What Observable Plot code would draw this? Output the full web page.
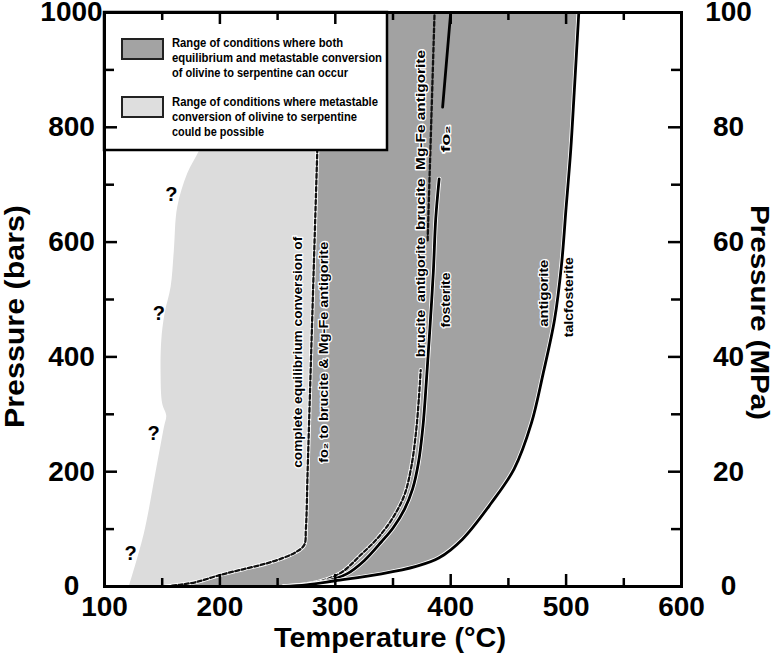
<!DOCTYPE html>
<html><head><meta charset="utf-8">
<script src="https://cdn.jsdelivr.net/npm/d3@7"></script>
<script src="https://cdn.jsdelivr.net/npm/@observablehq/plot@0.6"></script>
<style>body{margin:0;background:#fff}</style>
</head><body><div id="chart"></div>
<script>
// ---- ticks ----
const xTicks = [100, 200, 300, 400, 500, 600];
const xMinor = [150, 250, 350, 450, 550];
const barTicks = [0, 200, 400, 600, 800, 1000];
const barMinor = [100, 300, 500, 700, 900];
const mpaTicks = [0, 20, 40, 60, 80, 100];

// ---- light region left boundary (T °C, P bars) ----
const lightT = [121, 134, 144, 151.5, 153.5, 150, 148.6, 149.2, 152, 157.3, 160.1, 163, 171.7, 181.8, 190, 200];
const lightP = [0, 92, 197, 278, 298, 319, 371, 429, 475, 522, 586, 661, 720, 759, 800, 1000];
// complete equilibrium conversion (dashed)
const dashLT = [153, 165, 180, 200, 220, 240, 255, 265, 273, 274.5, 276, 277.5, 279, 280.5, 282, 283.5, 285, 288];
const dashLP = [0, 3, 8, 20, 30, 40, 50, 59, 72, 100, 200, 300, 400, 500, 600, 700, 800, 1000];
// antigorite = talc + forsterite (solid, right)
const rightT = [255, 275, 300, 340, 370, 390, 410, 435, 455, 470, 480, 490, 496, 500, 504, 507, 511];
const rightP = [0, 3, 10, 22, 35, 50, 82, 145, 205, 285, 370, 465, 560, 660, 760, 860, 1000];
// brucite + antigorite = forsterite (solid, middle)
const midST = [265, 290, 310, 325, 340, 350, 360, 367, 372, 376, 379, 382, 385, 387, 390];
const midSP = [0, 8, 22, 45, 78, 102, 135, 170, 215, 280, 360, 450, 550, 640, 710];
const midSUpT = [393, 400];
const midSUpP = [835, 1000];
// brucite + Mg-Fe antigorite (dashed, middle)
const midDT = [255, 285, 305, 322, 337, 350, 360, 366, 370, 372.5, 374];
const midDP = [0, 8, 24, 55, 85, 120, 160, 210, 270, 330, 377];
const midDUpT = [380, 383, 386];
const midDUpP = [603, 800, 1000];

// ---- annotations ----
const labelText = ["complete equilibrium conversion of", "fo\u2082 to brucite & Mg-Fe antigorite",
  "brucite  antigorite", "fosterite", "brucite  Mg-Fe antigorite", "fo\u2082", "antigorite", "talcfosterite"];
const labelT = [267.5, 290, 374.2, 396, 374.2, 395.9, 481, 502.6];
const labelP = [408, 408, 504, 499, 778, 780, 511, 504];
const labelLen = [231, 221, 120, 55, 180, 27, 67, 80];
const qT = [158, 147, 142.5, 122.6];
const qP = [682, 476, 267, 58];

// legend
const legendFills = ["#a3a3a3", "#dedede"];
const legendLines = [
  ["Range of conditions where both", "equilibrium and metastable conversion", "of olivine to serpentine can occur"],
  ["Range of conditions where metastable", "conversion of olivine to serpentine", "could be possible"]
];
const legendLens = [[171, 210, 176], [206, 185, 92]];

const xTitle = "Temperature (\u00b0C)";
const yTitle = "Pressure (bars)";
const y2Title = "Pressure (MPa)";
const titleLen = {[xTitle]: 232, [yTitle]: 223, [y2Title]: 215};

// ---- build ----
const pts = (T, P) => T.map((t, i) => ({T: t, P: P[i]}));
const light = pts(lightT, lightP).concat(pts(dashLT, dashLP).reverse());
const dark = pts(dashLT, dashLP).concat(pts(rightT, rightP).reverse());
const labels = labelText.map((t, i) => ({text: t, T: labelT[i], P: labelP[i], len: labelLen[i]}));
const qs = pts(qT, qP);

const FONT = "'Liberation Sans', Arial, sans-serif";
const W = 774, H = 668, mL = 104, mR = 93, mT = 12, mB = 82;
const iw = W - mL - mR, ih = H - mT - mB;

const DARK = "#a2a2a2", LIGHT = "#dcdcdc";

function legendMark(index, scales, values, dimensions) {
  const g = d3.create("svg:g");
  const x0 = dimensions.marginLeft, y0 = dimensions.marginTop;
  g.append("rect").attr("x", x0).attr("y", y0).attr("width", 283).attr("height", 138)
    .attr("fill", "white").attr("stroke", "black").attr("stroke-width", 2.5);
  const swY = [27, 85];
  const baseY = [[35, 50, 65], [94, 109, 124]];
  legendFills.forEach((f, k) => {
    g.append("rect").attr("x", x0 + 18).attr("y", y0 + swY[k]).attr("width", 41).attr("height", 20)
      .attr("fill", f).attr("stroke", "#222").attr("stroke-width", 2);
    legendLines[k].forEach((line, j) => {
      g.append("text").attr("x", x0 + 68).attr("y", y0 + baseY[k][j])
        .attr("text-anchor", "start")
        .attr("font-family", FONT).attr("font-weight", "bold").attr("font-size", 12.5)
        .attr("textLength", legendLens[k][j]).attr("lengthAdjust", "spacingAndGlyphs")
        .attr("fill", "black").text(line);
    });
  });
  return g.node();
}

const lineCommon = {x: "T", y: "P", curve: "catmull-rom", clip: true};
const tickStyle = {stroke: "black", strokeWidth: 2.5};
const axisFont = {fontSize: 28, fontWeight: "bold", fontFamily: FONT, label: null};

const plot = Plot.plot({
  width: W, height: H,
  marginLeft: mL, marginRight: mR, marginTop: mT, marginBottom: mB,
  x: {domain: [100, 600]},
  y: {domain: [0, 1000]},
  style: {fontFamily: FONT, background: "white"},
  marks: [
    Plot.line(light, {...lineCommon, fill: LIGHT, stroke: "none"}),
    Plot.line(dark, {x: "T", y: "P", curve: "linear", clip: true, fill: DARK, stroke: "none"}),
    // lines
    Plot.line(pts(dashLT, dashLP), {...lineCommon, stroke: "white", strokeWidth: 4}),
    Plot.line(pts(dashLT, dashLP), {...lineCommon, stroke: "#111", strokeWidth: 2.3, strokeDasharray: "4,2.5"}),
    Plot.line(pts(midDT, midDP), {...lineCommon, stroke: "white", strokeWidth: 4}),
    Plot.line(pts(midDT, midDP), {...lineCommon, stroke: "#111", strokeWidth: 2.3, strokeDasharray: "4,2.5"}),
    Plot.line(pts(midDUpT, midDUpP), {...lineCommon, stroke: "#111", strokeWidth: 2.3, strokeDasharray: "4,2.5"}),
    Plot.line(pts(midST, midSP), {...lineCommon, stroke: "white", strokeWidth: 4.5}),
    Plot.line(pts(midST, midSP), {...lineCommon, stroke: "black", strokeWidth: 2.8}),
    Plot.line(pts(midSUpT, midSUpP), {...lineCommon, stroke: "black", strokeWidth: 2.8}),
    Plot.line(pts(rightT, rightP), {...lineCommon, stroke: "white", strokeWidth: 4.5}),
    Plot.line(pts(rightT, rightP), {...lineCommon, stroke: "black", strokeWidth: 2.8}),
    // labels
    Plot.text(labels, {x: "T", y: "P", text: "text", rotate: -90, fontSize: 13, fontWeight: "bold",
      fill: "black", stroke: "white", strokeWidth: 2.5, fontFamily: FONT}),
    Plot.text(qs, {x: "T", y: "P", text: () => "?", fontSize: 20, fontWeight: "bold",
      fill: "black", stroke: "white", strokeWidth: 2, fontFamily: FONT}),
    // legend
    legendMark,
    // ticks (inward)
    Plot.tickX(xTicks.slice(1, -1), {x: d => d, insetTop: ih - 12, ...tickStyle}),
    Plot.tickX(xMinor, {x: d => d, insetTop: ih - 8, ...tickStyle}),
    Plot.tickX(xTicks.slice(1, -1), {x: d => d, insetBottom: ih - 12, ...tickStyle}),
    Plot.tickX(xMinor, {x: d => d, insetBottom: ih - 8, ...tickStyle}),
    Plot.tickY(barTicks.slice(1, -1), {y: d => d, insetRight: iw - 13, ...tickStyle}),
    Plot.tickY(barMinor, {y: d => d, insetRight: iw - 10, ...tickStyle}),
    Plot.tickY(barTicks.slice(1, -1), {y: d => d, insetLeft: iw - 13, ...tickStyle}),
    Plot.tickY(barMinor, {y: d => d, insetLeft: iw - 10, ...tickStyle}),
    Plot.frame({stroke: "black", strokeWidth: 3}),
    // axes
    Plot.axisX({ticks: xTicks, tickSize: 0, tickPadding: 10, tickFormat: d => String(d), ...axisFont}),
    Plot.axisY({anchor: "left", ticks: barTicks, tickSize: 0, tickPadding: 33, textAnchor: "middle",
      tickFormat: d => String(d), ...axisFont}),
    Plot.axisY({anchor: "right", ticks: mpaTicks.map(m => m * 10), tickFormat: d => String(d / 10),
      tickSize: 0, tickPadding: 47, textAnchor: "middle", ...axisFont}),
    // titles
    Plot.text([xTitle], {text: d => d, frameAnchor: "bottom", textAnchor: "middle", dy: 60, dx: -3,
      fontSize: 28, fontWeight: "bold", fontFamily: FONT}),
    Plot.text([yTitle], {text: d => d, frameAnchor: "left", textAnchor: "middle", dx: -89, dy: 17, rotate: -90,
      fontSize: 27, fontWeight: "bold", fontFamily: FONT}),
    Plot.text([y2Title], {text: d => d, frameAnchor: "right", textAnchor: "middle", dx: 78, dy: 13, rotate: 90,
      fontSize: 26, fontWeight: "bold", fontFamily: FONT})
  ]
});

// fit the rotated labels and titles to their measured lengths
const lenMap = new Map(labels.map(d => [d.text, d.len]));
Object.entries(titleLen).forEach(([k, v]) => lenMap.set(k, v));
d3.select(plot).selectAll("text").each(function () {
  const t = this.textContent;
  if (lenMap.has(t)) {
    this.setAttribute("textLength", lenMap.get(t));
    this.setAttribute("lengthAdjust", "spacingAndGlyphs");
  }
});
document.getElementById("chart").appendChild(plot);
</script>
</body></html>
